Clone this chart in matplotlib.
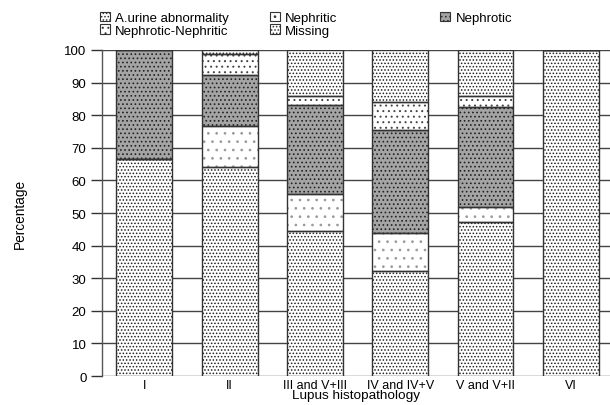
import matplotlib
matplotlib.use("Agg")
import matplotlib.pyplot as plt
import numpy as np

# ─────────────────────────────────────────
# DATA (percent of patients per class)
# ─────────────────────────────────────────
categories = ["I", "II", "III and V+III", "IV and IV+V", "V and V+II", "VI"]
aurine = [66.7, 64.1, 44.4, 32.3, 47.1, 100.0]
nephritic = [0.0, 12.6, 11.3, 11.7, 4.8, 0.0]
nephrotic = [33.3, 15.7, 27.3, 31.6, 30.7, 0.0]
neph_neph = [0.0, 6.3, 3.0, 8.4, 3.4, 0.0]
missing = [0.0, 1.3, 14.0, 16.0, 14.0, 0.0]
yticks = list(range(0, 101, 10))

plt.rcParams["font.family"] = ["Liberation Sans", "DejaVu Sans"]
plt.rcParams["hatch.linewidth"] = 0.7

# label, values, facecolor, hatch, hatch colour
series = [
    ("A.urine abnormality", aurine, "white", ".....", "#222222"),
    ("Nephritic", nephritic, "white", "..", "#999999"),
    ("Nephrotic", nephrotic, "#a4a4a4", "....", "#222222"),
    ("Nephrotic-Nephritic", neph_neph, "white", "...", "#444444"),
    ("Missing", missing, "white", ".....", "#222222"),
]

fig = plt.figure(figsize=(6.1, 4.06), dpi=100)
ax = fig.add_axes([0.1667, 0.0714, 0.8333, 0.8030])

x = np.arange(len(categories))
width = 0.656
bottom = np.zeros(len(categories))
handles = {}
for label, vals, fc, hatch, hc in series:
    vals = np.array(vals)
    # hatch layer (hatch takes the edge colour)
    h = ax.bar(x, vals, width, bottom=bottom, color=fc, hatch=hatch,
               edgecolor=hc, linewidth=0, zorder=2, label=label)
    # outline layer
    ax.bar(x, vals, width, bottom=bottom, fill=False,
           edgecolor="#333333", linewidth=1.0, zorder=3)
    handles[label] = h
    bottom += vals

ax.set_xlim(-0.5, 5.46)
ax.set_ylim(0, 100)
ax.set_yticks(yticks)
ax.set_xticks(x)
ax.set_xticklabels(categories)
ax.tick_params(axis="y", length=8, width=1, color="#333333", labelsize=9.5, pad=3)
ax.tick_params(axis="x", length=0, labelsize=9, pad=2)

for s in ["top", "right", "bottom"]:
    ax.spines[s].set_visible(False)
ax.spines["left"].set_color("#555555")
ax.spines["left"].set_linewidth(1)

ax.yaxis.grid(True, color="#444444", linewidth=1)
ax.set_axisbelow(True)

ax.set_ylabel("Percentage", fontsize=9.8, labelpad=27)
ax.set_xlabel("Lupus histopathology", fontsize=9.7, labelpad=-1)

# legend: three separate columns placed by hand
col_specs = [
    (["A.urine abnormality", "Nephrotic-Nephritic"], 0.153),
    (["Nephritic", "Missing"], 0.432),
    (["Nephrotic"], 0.711),
]
for labels, xpos in col_specs:
    leg = fig.legend([handles[l] for l in labels], labels, loc="upper left",
                     bbox_to_anchor=(xpos, 0.985), frameon=False, fontsize=9.5,
                     handlelength=0.75, handleheight=0.75, handletextpad=0.4,
                     labelspacing=0.0, borderaxespad=0.2, borderpad=0.3)
    for p in leg.get_patches():
        p.set_linewidth(0.8)
        p.set_edgecolor("#333333")

fig.savefig("out.png", dpi=100)
